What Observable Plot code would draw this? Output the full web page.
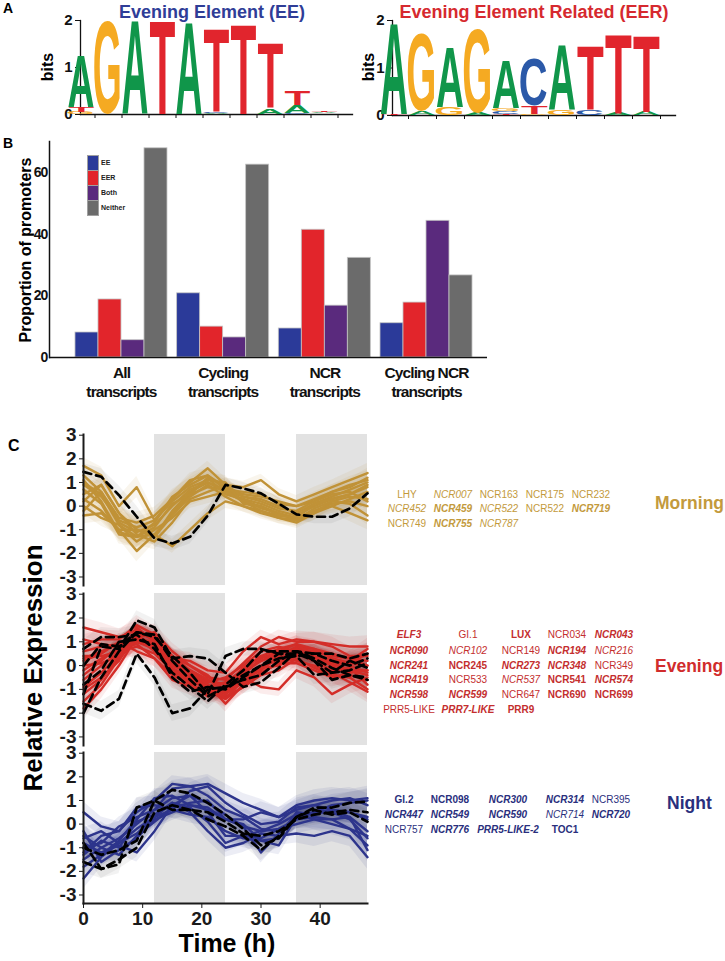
<!DOCTYPE html>
<html><head><meta charset="utf-8">
<script src="https://cdn.jsdelivr.net/npm/d3@7"></script>
<script src="https://cdn.jsdelivr.net/npm/@observablehq/plot@0.6"></script>
<style>
body{margin:0;background:#fff;}
#root{position:relative;width:725px;height:961px;overflow:hidden;font-family:"Liberation Sans",Arial,sans-serif;color:#000;}
#root svg{position:absolute;}
.lbl{position:absolute;white-space:nowrap;line-height:1;}
</style></head><body><div id="root"></div>
<script>
// ---------- DATA ----------
// Panel A: sequence logos (bits per letter, stacked bottom to top)
const logoPositions = [1, 2, 3, 4, 5, 6, 7, 8, 9, 10];
const eeStacks = [
  [["G", 0.05], ["T", 0.1], ["A", 1.1]],
  [["G", 1.98]],
  [["A", 1.98]],
  [["T", 1.98]],
  [["A", 1.96]],
  [["A", 0.02], ["C", 0.02], ["T", 1.78]],
  [["T", 1.9]],
  [["A", 0.12], ["T", 1.38]],
  [["C", 0.03], ["A", 0.17], ["T", 0.3]],
  [["G", 0.01], ["C", 0.01], ["A", 0.02], ["T", 0.02]]
];
const eerStacks = [
  [["T", 0.02], ["A", 1.92]],
  [["A", 0.08], ["G", 1.64]],
  [["G", 0.16], ["A", 1.26]],
  [["A", 0.04], ["G", 1.76]],
  [["T", 0.03], ["C", 0.05], ["G", 0.06], ["A", 1.02]],
  [["G", 0.03], ["T", 0.17], ["C", 0.99]],
  [["G", 0.12], ["A", 1.38]],
  [["C", 0.1], ["T", 1.34]],
  [["A", 0.05], ["T", 1.67]],
  [["A", 0.07], ["T", 1.61]]
];
const letterColors = {A: "#10964a", G: "#f5aa22", T: "#e1252d", C: "#2b59a8"};

// Panel B: proportion of promoters
const groupLabels = ["All\ntranscripts", "Cycling\ntranscripts", "NCR\ntranscripts", "Cycling NCR\ntranscripts"];
const motifTypes = ["EE", "EER", "Both", "Neither"];
const eeValues = [8.1, 20.8, 9.4, 11.1];
const eerValues = [18.8, 10.0, 41.4, 17.8];
const bothValues = [5.6, 6.5, 16.8, 44.3];
const neitherValues = [67.8, 62.5, 32.3, 26.6];
const typeColors = ["#2b3a99", "#e2252b", "#5a2a7d", "#6b6b6b"];

// Panel C: relative expression time courses
const times = [0, 3, 6, 9, 12, 15, 18, 21, 24, 27, 30, 33, 36, 39, 42, 45, 48];
const nightPeriods = [{start: 12, end: 24}, {start: 36, end: 48}];

const morningSolid = [
  [1.7, 1.3, 0.0, 0.8, -0.6, 0.3, 1.0, 1.6, 0.9, 0.8, 1.1, 0.5, 0.2, 0.5, 0.8, 1.1, 1.4],
  [1.0, 0.5, -0.8, -1.3, -1.2, -1.7, -1.0, -0.3, 0.2, 0.0, -0.2, -0.4, -0.5, -0.2, 0.0, 0.3, 0.6],
  [0.5, 0.9, -0.3, -1.0, -1.3, -0.2, 0.6, 1.0, 0.7, 0.4, 0.3, 0.0, -0.3, 0.1, 0.4, 0.7, 1.0],
  [0.3, -0.2, -1.0, -1.9, -1.2, -0.3, 0.5, 1.2, 0.5, 0.3, 0.1, -0.2, -0.4, 0.0, 0.3, 0.5, 0.8],
  [-0.2, 0.6, -0.7, -1.1, -0.8, 0.0, 0.7, 1.0, 0.6, 0.3, -0.1, -0.3, -0.5, -0.2, 0.1, 0.2, 0.0],
  [1.1, 0.2, -1.1, -1.3, -0.7, 0.4, 0.9, 1.3, 0.8, 0.5, 0.4, 0.2, 0.0, 0.2, 0.6, 0.9, 1.1],
  [0.7, 0.1, -1.2, -1.3, -0.9, 0.1, 0.5, 0.8, 0.7, 0.2, -0.2, -0.5, -0.7, -0.3, 0.0, -0.3, -0.6],
  [0.0, -0.5, -0.8, -1.5, -1.0, -0.5, 0.2, 0.4, 0.6, 0.2, 0.0, -0.3, -0.6, -0.3, 0.2, 0.4, 0.3],
  [1.3, 0.6, -0.5, -0.7, -0.4, 0.3, 1.1, 1.3, 0.7, 0.6, 0.5, 0.1, 0.0, 0.3, 0.6, 0.8, 1.2],
  [0.2, 0.9, -0.3, -1.2, -1.5, -0.7, 0.3, 0.6, 0.9, 0.4, 0.2, -0.1, -0.2, 0.2, 0.5, 0.6, 0.2],
  [0.9, 0.4, -0.6, -0.9, -0.6, 0.2, 0.8, 1.1, 1.0, 0.1, 0.0, -0.4, -0.5, 0.1, 0.3, 0.5, 0.9],
  [-0.4, -0.3, -1.0, -1.0, -1.3, -0.4, 0.4, 0.9, 0.4, 0.0, -0.3, -0.5, -0.6, -0.1, 0.2, 0.1, -0.4]
];
const morningDashed = [
  [1.45, 1.24, 0.46, -0.45, -1.37, -1.58, -1.3, -0.4, 0.9, 0.75, 0.54, 0.1, -0.35, -0.45, -0.45, -0.1, 0.54]
];
const morningSd = [0.35, 0.35, 0.4, 0.45, 0.35, 0.3, 0.3, 0.3, 0.3, 0.25, 0.25, 0.25, 0.25, 0.3, 0.3, 0.35, 0.4];

const eveningSolid = [
  [1.6, 1.4, 1.2, 1.5, 1.1, 0.3, 0.2, -0.2, -0.3, 0.6, 1.2, 0.9, 1.1, 1.0, 0.9, 0.8, 0.8],
  [0.6, 0.8, 0.9, 1.3, 1.2, 0.2, -0.2, -0.6, -1.0, -0.3, 0.2, 0.5, 0.7, 0.6, 0.4, 0.3, 0.0],
  [-0.4, 0.2, 0.8, 1.2, 0.9, -0.1, -0.5, -1.0, -1.1, -0.6, -0.1, 0.3, 0.6, 0.3, 0.1, -0.2, -0.4],
  [-1.5, -0.8, 0.3, 1.1, 1.0, 0.1, -0.4, -0.8, -1.6, -0.8, -0.3, 0.1, 0.5, 0.2, -0.2, -0.1, -0.8],
  [0.2, 0.5, 1.0, 0.6, 0.3, -0.6, -0.9, -1.2, -0.9, -0.5, -0.9, -1.0, -0.2, -0.5, -1.2, -0.8, -0.5],
  [-0.9, -0.3, 0.5, 1.0, 0.7, 0.0, -0.3, -0.9, -1.2, -0.6, -0.2, 0.4, 0.8, 0.7, 0.5, 0.3, 0.2],
  [0.9, 1.1, 1.1, 1.7, 1.3, 0.4, 0.0, -0.5, -0.6, 0.1, 0.8, 1.2, 1.0, 1.0, 0.8, 0.4, 0.4],
  [-0.2, 0.3, 0.7, 0.9, 0.3, -0.4, -0.8, -1.1, -1.4, -0.9, -0.4, -0.2, 0.3, -0.1, -0.4, -0.5, -1.0],
  [-1.0, -0.5, 0.2, 1.4, 1.1, 0.4, -0.2, -0.6, -0.8, -0.1, 0.4, 0.7, 0.9, 0.4, 0.2, 0.0, -0.3],
  [0.4, 0.4, 0.6, 1.0, 0.8, -0.2, -0.6, -0.8, -1.2, -0.7, -0.1, 0.0, 0.4, 0.5, 0.1, -0.2, -0.2],
  [-1.8, -1.0, 0.0, 1.2, 1.4, 0.6, 0.0, -0.4, -1.1, -0.4, 0.3, 0.6, 0.9, 0.7, 0.3, 0.1, 0.5],
  [1.1, 0.9, 0.8, 1.2, 0.6, -0.3, -0.7, -1.3, -1.0, -0.2, 0.4, 0.3, 0.2, 0.0, -0.3, -0.7, -1.1],
  [0.0, 0.1, 0.4, 1.6, 1.0, 0.1, -0.3, -0.7, -0.5, 0.0, 0.6, 0.8, 0.6, 0.3, 0.0, 0.2, 0.7],
  [-0.6, 0.0, 0.6, 0.8, 0.5, -0.2, -0.6, -1.0, -1.3, -0.9, -0.3, 0.1, 0.1, -0.2, -0.5, -0.3, -0.2],
  [0.3, 0.6, 0.9, 1.3, 0.8, 0.1, -0.4, -0.9, -0.7, -0.2, 0.2, 0.5, 0.7, 0.3, 0.3, 0.1, 0.0],
  [-1.2, -0.6, 0.4, 1.1, 0.9, 0.0, -0.2, -0.8, -1.4, -0.6, 0.0, 0.2, 0.5, 0.5, 0.0, -0.4, -0.6]
];
const eveningDashed = [
  [-1.6, -1.9, -1.4, 0.5, -0.5, -2.0, -1.8, -1.0, -0.9, -0.6, -0.4, 0.2, 0.6, 0.3, -0.1, -0.4, -0.6],
  [0.7, 1.2, 1.2, 1.3, 0.7, -0.3, -0.9, -1.5, -0.8, -0.2, 0.6, 0.6, 0.6, 0.5, 0.2, 0.0, 0.3],
  [-1.2, 0.8, 0.7, 1.9, 1.6, 0.3, 0.4, 0.3, -0.3, -0.9, -0.7, -0.1, 0.6, 0.2, -0.3, 0.2, -0.1],
  [-2.0, -0.5, 0.6, 1.4, 1.2, 0.4, -0.3, -1.2, 0.4, 0.7, 0.7, 0.5, 0.4, 0.5, 0.5, 0.3, 0.5],
  [-0.8, -0.2, 1.0, 1.1, 0.9, -0.5, -1.1, -0.9, -1.0, -0.5, 0.0, 0.3, 0.4, -0.4, -0.3, -0.2, 0.1],
  [0.0, 0.9, 0.8, 1.4, 1.3, 0.2, -0.6, -1.3, -0.9, -0.4, 0.0, 0.5, 0.5, 0.2, -0.6, -0.4, -0.5]
];
const eveningSd = [0.4, 0.4, 0.35, 0.4, 0.35, 0.35, 0.35, 0.35, 0.35, 0.3, 0.3, 0.3, 0.35, 0.4, 0.4, 0.4, 0.45];

const nightSolid = [
  [0.5, -0.1, -0.3, 0.5, 1.0, 1.7, 1.6, 1.7, 1.3, 0.9, 0.6, 0.3, 0.8, 1.0, 1.1, 1.0, 1.1],
  [-0.5, -1.0, -0.6, 0.0, 0.6, 1.5, 1.6, 1.2, 0.6, 0.3, -0.2, -0.3, 0.2, 0.5, 0.6, 0.5, 0.2],
  [-1.2, -0.5, -0.3, 0.7, 0.8, 0.6, 1.4, 1.6, 0.9, 0.4, 0.0, 0.1, 0.7, 0.8, 0.6, 0.5, 0.3],
  [-2.3, -1.4, -0.8, -0.2, 0.3, 0.9, 0.7, 0.1, -0.8, -0.5, -0.3, -0.2, 0.0, 0.2, 0.2, 0.3, -0.3],
  [-1.5, -1.0, -1.3, -0.5, 0.1, 0.7, 0.9, 1.0, 0.2, -0.1, -1.2, -0.4, 0.4, 0.5, 0.5, 0.2, -0.6],
  [-0.8, -1.2, -0.9, -1.2, -0.3, 0.8, 1.2, 0.5, -0.5, -0.5, -0.6, -0.2, 0.2, 0.3, 0.2, -0.2, -0.9],
  [-1.3, -0.7, -1.0, 0.1, 0.4, 0.9, 0.5, -0.3, -1.0, -0.8, -0.4, -0.5, -0.4, -0.5, -0.3, -0.5, -1.4],
  [-0.3, -1.6, -1.1, -0.6, 0.2, 0.5, 0.8, 0.6, 0.2, 0.0, -0.7, -0.9, 0.3, 0.5, 0.8, 0.9, 1.0],
  [-1.0, -0.8, -0.1, 0.3, 0.6, 1.1, 1.2, 0.9, 0.4, -0.1, -0.3, 0.0, 0.4, 0.2, 0.0, -0.2, -0.5],
  [-1.8, -1.3, -0.7, 0.2, 1.1, 1.2, 0.8, 0.7, 0.2, 0.2, 0.5, 0.3, 0.6, 0.8, 1.0, 1.1, 0.8],
  [-0.6, -0.3, -0.8, -0.4, 0.3, 0.6, 0.4, 0.3, -0.3, -0.6, -0.7, -0.6, 0.5, 0.4, 0.6, 0.3, -1.1]
];
const nightDashed = [
  [-0.8, -1.9, -1.7, 0.7, 1.0, 0.6, 0.6, 0.5, 0.1, -0.4, -0.5, -0.3, 0.2, 0.4, 0.5, 0.6, 0.5],
  [-1.0, -1.3, -1.1, -0.7, 1.0, 1.45, 1.3, 0.9, 0.4, -0.2, -0.9, -0.6, 0.3, 0.7, 0.7, 0.9, 0.95],
  [-1.6, -1.9, -1.5, -1.0, 0.5, 0.8, 0.6, 0.2, -0.1, -0.5, -1.1, -0.5, 0.3, 0.6, 0.4, 0.5, 0.1]
];
const nightSd = [0.45, 0.4, 0.4, 0.4, 0.4, 0.35, 0.35, 0.4, 0.4, 0.4, 0.45, 0.4, 0.4, 0.45, 0.45, 0.45, 0.5];

// Gene lists (face: n = normal, i = italic, b = bold, bi = bold italic)
const morningGenes = [
  ["LHY", "NCR007", "NCR163", "NCR175", "NCR232"],
  ["NCR452", "NCR459", "NCR522", "NCR522", "NCR719"],
  ["NCR749", "NCR755", "NCR787"]
];
const morningFaces = [
  ["n", "i", "n", "n", "n"],
  ["i", "bi", "i", "n", "bi"],
  ["n", "bi", "i"]
];
const eveningGenes = [
  ["ELF3", "GI.1", "LUX", "NCR034", "NCR043"],
  ["NCR090", "NCR102", "NCR149", "NCR194", "NCR216"],
  ["NCR241", "NCR245", "NCR273", "NCR348", "NCR349"],
  ["NCR419", "NCR533", "NCR537", "NCR541", "NCR574"],
  ["NCR598", "NCR599", "NCR647", "NCR690", "NCR699"],
  ["PRR5-LIKE", "PRR7-LIKE", "PRR9"]
];
const eveningFaces = [
  ["bi", "n", "b", "n", "bi"],
  ["bi", "i", "n", "bi", "i"],
  ["bi", "b", "bi", "bi", "n"],
  ["bi", "n", "i", "b", "bi"],
  ["bi", "bi", "n", "b", "b"],
  ["n", "bi", "b"]
];
const nightGenes = [
  ["GI.2", "NCR098", "NCR300", "NCR314", "NCR395"],
  ["NCR447", "NCR549", "NCR590", "NCR714", "NCR720"],
  ["NCR757", "NCR776", "PRR5-LIKE-2", "TOC1"]
];
const nightFaces = [
  ["b", "b", "bi", "bi", "n"],
  ["bi", "bi", "bi", "i", "bi"],
  ["n", "bi", "bi", "b"]
];

// ---------- HELPERS ----------
const root = document.getElementById("root");
const SANS = "'Liberation Sans', Arial, sans-serif";
const NARROW = "'Liberation Sans Narrow', 'Arial Narrow', 'Liberation Sans', sans-serif";
function put(svg, left, top) {
  svg.style.left = left + "px"; svg.style.top = top + "px";
  root.appendChild(svg); return svg;
}
function label(text, x, y, o = {}) {
  const size = o.size || 10;
  const d = document.createElement("div");
  d.className = "lbl";
  d.textContent = text;
  d.style.fontSize = size + "px";
  d.style.fontFamily = o.family || SANS;
  d.style.fontWeight = o.weight || "normal";
  d.style.fontStyle = o.style || "normal";
  d.style.color = o.color || "#000";
  if (o.rotate) {
    d.style.left = x + "px"; d.style.top = y + "px";
    d.style.transform = "translate(-50%,-50%) rotate(-90deg)";
  } else {
    d.style.left = x + "px"; d.style.top = (y - 0.49 * size) + "px";
    const a = o.anchor || "start";
    if (a === "middle") d.style.transform = "translateX(-50%)";
    if (a === "end") d.style.transform = "translateX(-100%)";
  }
  root.appendChild(d); return d;
}

// ---------- PANEL A ----------
const ctx = document.createElement("canvas").getContext("2d");
ctx.font = "bold 100px 'Liberation Sans'";
function ink(ch) {
  const m = ctx.measureText(ch);
  return {l: m.actualBoundingBoxLeft, r: m.actualBoundingBoxRight, a: m.actualBoundingBoxAscent, d: m.actualBoundingBoxDescent};
}
function drawLogo(stacks, box) {
  const rows = stacks.flatMap((stack, i) => {
    let acc = 0;
    return stack.map(([ch, h]) => { const r = {pos: logoPositions[i], ch, y1: acc, y2: acc + h}; acc += h; return r; });
  });
  const plot = Plot.plot({
    width: box.w, height: box.h,
    marginLeft: box.ml, marginRight: box.mr, marginTop: box.mt, marginBottom: box.mb,
    style: {fontFamily: SANS, fontSize: "15px", fontWeight: "bold", background: "transparent", color: "#111"},
    x: {type: "band", domain: logoPositions, padding: 0},
    y: {domain: [0, 2]},
    marks: [
      Plot.barY(rows, {x: "pos", y1: "y1", y2: "y2", fill: "none"}),
      Plot.axisY({ticks: [0, 1, 2], tickFormat: v => String(v), tickSize: 5, tickPadding: 3, label: null}),
      Plot.axisX({tickSize: 4, tickFormat: () => "", label: null}),
      Plot.frame({anchor: "left", strokeWidth: 1.3}),
      Plot.frame({anchor: "bottom", strokeWidth: 1.3})
    ]
  });
  const xs = plot.scale("x"), ys = plot.scale("y");
  const g = d3.select(plot).append("g").attr("aria-label", "logo letters");
  for (const r of rows) {
    const top = ys.apply(r.y2), bottom = ys.apply(r.y1);
    const h = bottom - top;
    if (h < 0.5) continue;
    const w = xs.bandwidth * 0.94;
    const cx = xs.apply(r.pos) + xs.bandwidth / 2;
    const k = ink(r.ch);
    const sx = w / (k.l + k.r), sy = h / (k.a + k.d);
    g.append("text")
      .attr("transform", `translate(${cx - w / 2},${bottom}) scale(${sx},${sy}) translate(${k.l},${-k.d})`)
      .attr("font-family", "Liberation Sans").attr("font-weight", "bold").attr("font-size", 100)
      .attr("fill", letterColors[r.ch]).text(r.ch);
  }
  return plot;
}
put(drawLogo(eeStacks, {w: 360, h: 125, ml: 80, mr: 8, mt: 20, mb: 11}), 0, 0);
put(drawLogo(eerStacks, {w: 365, h: 125, ml: 32, mr: 50, mt: 20, mb: 10}), 360, 0);
label("A", 3, 8, {size: 14, weight: "bold"});
label("Evening Element (EE)", 212, 12, {size: 18, weight: "bold", color: "#2f3d97", anchor: "middle"});
label("Evening Element Related (EER)", 534, 12, {size: 18, weight: "bold", color: "#d6292f", anchor: "middle"});
label("bits", 48, 67, {size: 16, weight: "bold", rotate: true});
label("bits", 369, 67, {size: 16, weight: "bold", rotate: true});

// ---------- PANEL B ----------
const typeValues = [eeValues, eerValues, bothValues, neitherValues];
const groupSpan = 0.905, barUnits = groupSpan / motifTypes.length;
const barData = groupLabels.flatMap((gl, gi) => motifTypes.map((t, ti) => ({
  group: gl, type: t, value: typeValues[ti][gi],
  x1: gi - groupSpan / 2 + ti * barUnits, x2: gi - groupSpan / 2 + (ti + 1) * barUnits
})));
const barPlot = Plot.plot({
  width: 500, height: 282, marginLeft: 49, marginRight: 13, marginTop: 16, marginBottom: 50,
  style: {fontFamily: NARROW, fontSize: "14px", fontWeight: "bold", letterSpacing: "-0.9px", background: "transparent", color: "#111"},
  x: {domain: [-0.708, 3.6], axis: null},
  y: {domain: [0, 70]},
  color: {domain: motifTypes, range: typeColors},
  marks: [
    Plot.rect(barData, {x1: "x1", x2: "x2", y1: () => 0, y2: "value", fill: "type", stroke: "#c4c4c4", strokeWidth: 0.8}),
    Plot.axisY({ticks: [0, 20, 40, 60], tickSize: 0, tickPadding: 2, label: null}),
    Plot.ruleY([0], {strokeWidth: 1.5}),
    Plot.frame({anchor: "left", strokeWidth: 1.5}),
    Plot.text(groupLabels, {x: (d, i) => i, frameAnchor: "bottom", lineAnchor: "middle", dy: 24, lineHeight: 1.2, fontSize: 15.5, fontWeight: "bold", fontFamily: NARROW})
  ]
});
put(barPlot, 0, 125);
label("B", 3, 142.5, {size: 14, weight: "bold"});
label("Proportion of promoters", 26, 250, {size: 16, weight: "bold", rotate: true});
// legend
motifTypes.forEach((t, i) => {
  const s = document.createElement("div");
  Object.assign(s.style, {position: "absolute", left: "87px", top: (155 + i * 15) + "px", width: "10px", height: "14px",
    background: typeColors[i], border: "0.5px solid #a0a0a0"});
  root.appendChild(s);
  label(t, 101, 162.5 + i * 15, {size: 7, weight: "bold", color: "#222"});
});

// ---------- PANEL C ----------
function table(list, sd, prefix) {
  return list.flatMap((vals, si) => vals.map((v, ti) => ({id: prefix + si, t: times[ti], v, lo: v - sd[ti], hi: v + sd[ti]})));
}
function panel(solid, dashed, sd, color, box, last) {
  const s = table(solid, sd, "s"), d = table(dashed, sd, "d");
  return Plot.plot({
    width: 372, height: box.h, marginLeft: 83, marginRight: 5, marginTop: box.mt, marginBottom: box.mb,
    style: {fontFamily: SANS, fontSize: "19px", fontWeight: "bold", background: "transparent", color: "#1a1a1a"},
    x: {domain: [0, 48]},
    y: {domain: [-3.36, 3.03]},
    marks: [
      Plot.rect(nightPeriods, {x1: "start", x2: "end", fill: "#e2e2e2"}),
      Plot.areaY(s, {x: "t", y1: "lo", y2: "hi", z: "id", fill: color, fillOpacity: 0.09}),
      Plot.areaY(d, {x: "t", y1: "lo", y2: "hi", z: "id", fill: "#000", fillOpacity: 0.05}),
      Plot.line(s, {x: "t", y: "v", z: "id", stroke: color, strokeWidth: 2.4}),
      Plot.line(d, {x: "t", y: "v", z: "id", stroke: "#000", strokeWidth: 2.7, strokeDasharray: "8,5"}),
      Plot.axisY({ticks: [-3, -2, -1, 0, 1, 2, 3], tickFormat: v => String(v), tickSize: 4, tickPadding: 3, label: null}),
      Plot.frame({anchor: "left", strokeWidth: 2}),
      last ? Plot.axisX({ticks: [0, 10, 20, 30, 40], tickSize: 5, tickPadding: 3, label: null}) : Plot.axisX({ticks: [], label: null}),
      last ? Plot.frame({anchor: "bottom", strokeWidth: 2}) : null
    ]
  });
}
put(panel(morningSolid, morningDashed, morningSd, "#c09237", {h: 164, mt: 10, mb: 3}, false), 0, 424);
put(panel(eveningSolid, eveningDashed, eveningSd, "#d42d28", {h: 165, mt: 10, mb: 3}, false), 0, 583);
put(panel(nightSolid, nightDashed, nightSd, "#2d348c", {h: 189, mt: 10, mb: 28}, true), 0, 742);
label("C", 8, 446, {size: 16, weight: "bold"});
label("Relative Expression", 33, 668, {size: 26, weight: "bold", rotate: true});
label("Time (h)", 227, 943, {size: 25, weight: "bold", anchor: "middle"});

function faceStyle(f) {
  return {weight: f.includes("b") ? "bold" : "normal", style: f.includes("i") ? "italic" : "normal"};
}
function geneBlock(genes, faces, cols, rows, color) {
  genes.forEach((row, r) => row.forEach((g, c) => {
    const fs = faceStyle(faces[r][c]);
    label(g, cols[c], rows[r], {size: 10, weight: fs.weight, style: fs.style, color, anchor: "middle"});
  }));
}
geneBlock(morningGenes, morningFaces, [407, 453, 499, 545, 591], [494.5, 509, 523.5], "#c39a3c");
geneBlock(eveningGenes, eveningFaces, [409, 468, 521, 567, 614], [635.3, 650.5, 665.5, 680.3, 695, 710], "#c42e2e");
geneBlock(nightGenes, nightFaces, [404, 450, 508, 565, 611], [800.3, 815, 830], "#2a2f7d");
label("Morning", 655, 503.5, {size: 17.5, weight: "bold", color: "#c39a3c"});
label("Evening", 655, 667, {size: 17.5, weight: "bold", color: "#d12c2c"});
label("Night", 667, 803.5, {size: 17.5, weight: "bold", color: "#2a2f7d"});
</script></body></html>
